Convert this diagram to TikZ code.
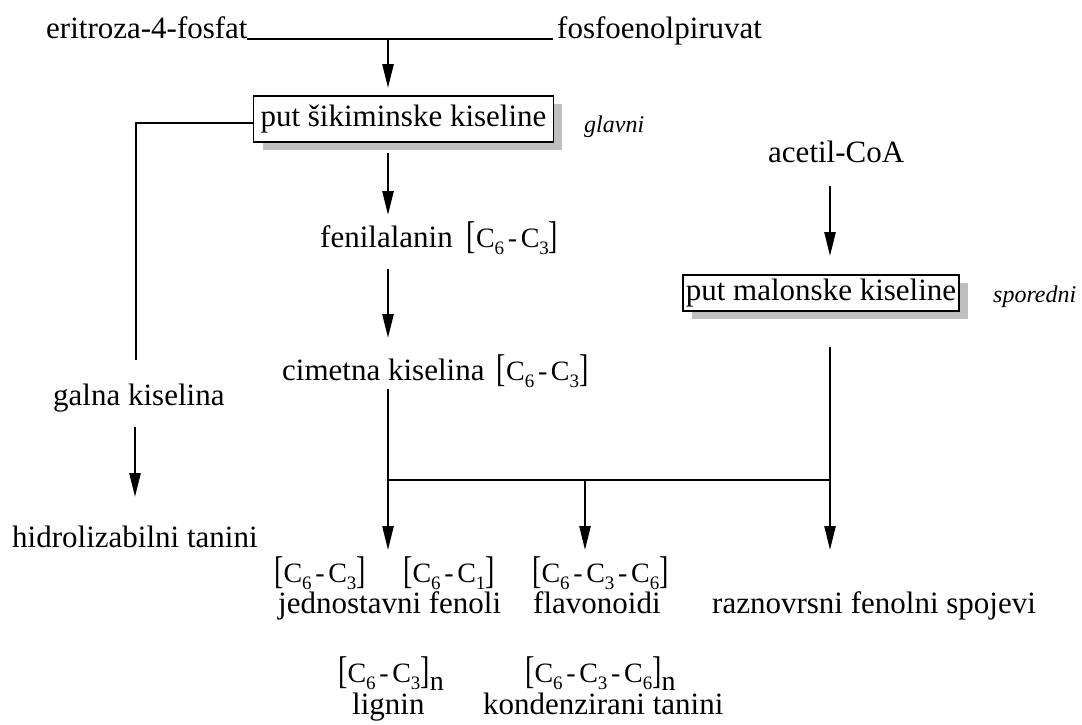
\documentclass[tikz,border=0pt]{standalone}
\usepackage{graphicx}
\usepackage{fontspec}
\setmainfont{Liberation Serif}
\usetikzlibrary{arrows.meta,shadows}
\newcommand{\lbr}{\raisebox{-0.07em}{\scalebox{1}[1.38]{[}}}
\newcommand{\rbr}{\raisebox{-0.07em}{\scalebox{1}[1.38]{]}}}
\newcommand{\sbs}[1]{\raisebox{-0.26em}{\fontsize{19}{19}\selectfont #1}}
\newcommand{\hy}{\hspace{0.13em}-\hspace{0.13em}}
\newcommand{\frm}[1]{{\fontsize{28}{28}\selectfont\lbr#1\rbr}}
\newcommand{\frmn}[1]{{\fontsize{28}{28}\selectfont\lbr#1\rbr\raisebox{-0.32em}{n}}}
\begin{document}
\begin{tikzpicture}[x=1pt,y=-1pt,
  txt/.style={inner sep=0pt, anchor=base west, font=\fontsize{31}{31}\selectfont},
  lab/.style={inner sep=0pt, anchor=base west, font=\fontsize{24}{24}\selectfont\itshape},
  pbox/.style={draw, line width=1.8pt, fill=white, font=\fontsize{31}{31}\selectfont,
    text height=22pt, text depth=7pt,
    drop shadow={shadow xshift=9pt, shadow yshift=-8pt, fill=black!25, opacity=1}},
  conn/.style={line width=2.5pt},
  arr/.style={line width=2.5pt, -{Triangle[length=24pt,width=11pt]}}]
\useasboundingbox (0,0) rectangle (1082,724);

% top row
\node[txt] (ery) at (46,38) {eritroza-4-fosfat};
\node[txt] (fos) at (557,38) {fosfoenolpiruvat};
\coordinate (jl) at (247,39);
\coordinate (jr) at (553,39);
\coordinate (jt) at (388,39);
\coordinate (t1) at (388,88);

% main boxes
\node[pbox, inner xsep=7pt, inner ysep=8.5pt] (b1) at (403.5,119) {put šikiminske kiseline};
\node[lab] (gl) at (584,132) {glavni};
\node[txt] (ace) at (768,162) {acetil-CoA};
\node[pbox, inner xsep=3pt, inner ysep=3.5pt] (b2) at (821,293) {put malonske kiseline};
\node[lab] (sp) at (993,302) {sporedni};

% middle column
\node[txt] (fen) at (320,247) {fenilalanin\hspace{0.45em}\frm{C\sbs{6}\hy C\sbs{3}}};
\node[txt] (cim) at (282,380) {cimetna kiselina\hspace{0.4em}\frm{C\sbs{6}\hy C\sbs{3}}};

% left column
\node[txt] (gal) at (53,405) {galna kiselina};
\node[txt] (hid) at (12,547) {hidrolizabilni tanini};

% bottom
\node[txt] (f1) at (274,582) {\frm{C\sbs{6}\hy C\sbs{3}}};
\node[txt] (f2) at (403,582) {\frm{C\sbs{6}\hy C\sbs{1}}};
\node[txt] (f3) at (532,582) {\frm{C\sbs{6}\hy C\sbs{3}\hy C\sbs{6}}};
\node[txt] (jed) at (278,613) {jednostavni fenoli};
\node[txt] (fla) at (533,613) {flavonoidi};
\node[txt] (raz) at (712,613) {raznovrsni fenolni spojevi};
\node[txt] (f4) at (338,682) {\frmn{C\sbs{6}\hy C\sbs{3}}};
\node[txt] (lig) at (352,714) {lignin};
\node[txt] (f5) at (525,682) {\frmn{C\sbs{6}\hy C\sbs{3}\hy C\sbs{6}}};
\node[txt] (kon) at (483,714) {kondenzirani tanini};

% coordinates
\coordinate (s2) at (388,153);
\coordinate (t2) at (388,215);
\coordinate (s3) at (388,269);
\coordinate (t3) at (388,338);
\coordinate (s4) at (388,389);
\coordinate (jm) at (388,480);
\coordinate (jc) at (585,480);
\coordinate (jrr) at (830,480);
\coordinate (t4) at (388,550);
\coordinate (t5) at (585,550);
\coordinate (t6) at (830,550);
\coordinate (sa) at (830,186);
\coordinate (ta) at (830,256);
\coordinate (sb) at (830,347);
\coordinate (lc) at (136,360);
\coordinate (sg) at (135,427);
\coordinate (tg) at (135,497);

% connectors
\draw[conn] (jl) -- (jr);
\draw[arr] (jt) -- (t1);
\draw[conn] ([yshift=-4pt]b1.west) -| (lc);
\draw[arr] (s2) -- (t2);
\draw[arr] (s3) -- (t3);
\draw[conn] (s4) -- (jm);
\draw[conn] (jm) -- (jrr);
\draw[conn] (sb) -- (jrr);
\draw[arr] (sa) -- (ta);
\draw[arr] (jm) -- (t4);
\draw[arr] (jc) -- (t5);
\draw[arr] (jrr) -- (t6);
\draw[arr] (sg) -- (tg);
\end{tikzpicture}
\end{document}
